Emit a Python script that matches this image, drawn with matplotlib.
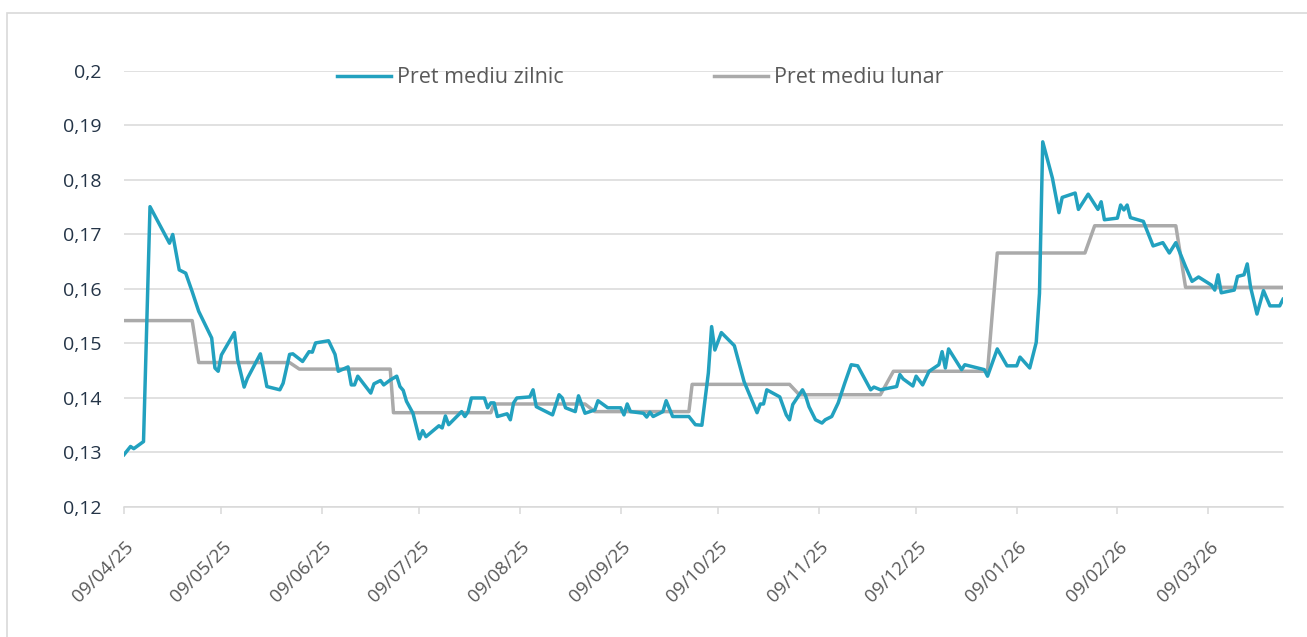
import pandas as pd
import matplotlib
matplotlib.use('Agg')
import matplotlib.pyplot as plt
import matplotlib.dates as mdates
import matplotlib.transforms as mtransforms
from matplotlib.patches import Rectangle

# daily average price (vertices)
daily_dates = [
    '2025-04-09', '2025-04-11', '2025-04-12', '2025-04-15', '2025-04-17', '2025-04-23', '2025-04-24',
    '2025-04-26', '2025-04-28', '2025-04-30', '2025-05-02', '2025-05-06', '2025-05-07', '2025-05-08',
    '2025-05-09', '2025-05-13', '2025-05-14', '2025-05-16', '2025-05-17', '2025-05-21', '2025-05-22',
    '2025-05-23', '2025-05-27', '2025-05-28', '2025-05-30', '2025-05-31', '2025-06-03', '2025-06-05',
    '2025-06-06', '2025-06-07', '2025-06-11', '2025-06-13', '2025-06-14', '2025-06-17', '2025-06-18',
    '2025-06-19', '2025-06-20', '2025-06-24', '2025-06-25', '2025-06-27', '2025-06-28', '2025-06-30',
    '2025-07-02', '2025-07-03', '2025-07-04', '2025-07-05', '2025-07-07', '2025-07-09', '2025-07-10',
    '2025-07-11', '2025-07-15', '2025-07-16', '2025-07-17', '2025-07-18', '2025-07-22', '2025-07-23',
    '2025-07-24', '2025-07-25', '2025-07-29', '2025-07-30', '2025-07-31', '2025-08-01', '2025-08-02',
    '2025-08-05', '2025-08-06', '2025-08-07', '2025-08-08', '2025-08-12', '2025-08-13', '2025-08-14',
    '2025-08-19', '2025-08-21', '2025-08-22', '2025-08-23', '2025-08-26', '2025-08-27', '2025-08-29',
    '2025-09-01', '2025-09-02', '2025-09-05', '2025-09-09', '2025-09-10', '2025-09-11', '2025-09-12',
    '2025-09-16', '2025-09-17', '2025-09-18', '2025-09-19', '2025-09-22', '2025-09-23', '2025-09-25',
    '2025-09-30', '2025-10-02', '2025-10-04', '2025-10-06', '2025-10-07', '2025-10-08', '2025-10-10',
    '2025-10-14', '2025-10-17', '2025-10-21', '2025-10-22', '2025-10-23', '2025-10-24', '2025-10-28',
    '2025-10-30', '2025-10-31', '2025-11-01', '2025-11-04', '2025-11-05', '2025-11-06', '2025-11-08',
    '2025-11-10', '2025-11-11', '2025-11-13', '2025-11-15', '2025-11-17', '2025-11-19', '2025-11-21',
    '2025-11-25', '2025-11-26', '2025-11-28', '2025-12-03', '2025-12-04', '2025-12-05', '2025-12-08',
    '2025-12-09', '2025-12-11', '2025-12-13', '2025-12-16', '2025-12-17', '2025-12-18', '2025-12-19',
    '2025-12-23', '2025-12-24', '2025-12-30', '2025-12-31', '2026-01-03', '2026-01-06', '2026-01-09',
    '2026-01-10', '2026-01-13', '2026-01-15', '2026-01-16', '2026-01-17', '2026-01-20', '2026-01-22',
    '2026-01-23', '2026-01-27', '2026-01-28', '2026-01-31', '2026-02-03', '2026-02-04', '2026-02-05',
    '2026-02-09', '2026-02-10', '2026-02-11', '2026-02-12', '2026-02-13', '2026-02-17', '2026-02-20',
    '2026-02-23', '2026-02-25', '2026-02-27', '2026-03-02', '2026-03-04', '2026-03-06', '2026-03-10',
    '2026-03-11', '2026-03-12', '2026-03-13', '2026-03-17', '2026-03-18', '2026-03-20', '2026-03-21',
    '2026-03-22', '2026-03-24', '2026-03-26', '2026-03-28', '2026-03-31', '2026-04-01',
]
daily_price = [
    0.1296, 0.1311, 0.1307, 0.1320, 0.1751, 0.1684, 0.1700,
    0.1635, 0.1629, 0.1595, 0.1559, 0.1510, 0.1455, 0.1449,
    0.1479, 0.1520, 0.1470, 0.1420, 0.1436, 0.1481, 0.1452,
    0.1421, 0.1415, 0.1427, 0.1480, 0.1481, 0.1467, 0.1485,
    0.1484, 0.1501, 0.1505, 0.1480, 0.1449, 0.1457, 0.1424,
    0.1424, 0.1440, 0.1409, 0.1426, 0.1432, 0.1424, 0.1433,
    0.1440, 0.1421, 0.1414, 0.1394, 0.1372, 0.1325, 0.1340,
    0.1329, 0.1349, 0.1345, 0.1367, 0.1351, 0.1375, 0.1366,
    0.1375, 0.1400, 0.1400, 0.1382, 0.1391, 0.1391, 0.1366,
    0.1371, 0.1360, 0.1391, 0.1400, 0.1402, 0.1415, 0.1384,
    0.1369, 0.1406, 0.1400, 0.1382, 0.1375, 0.1404, 0.1372,
    0.1378, 0.1395, 0.1382, 0.1382, 0.1369, 0.1389, 0.1375,
    0.1372, 0.1365, 0.1374, 0.1366, 0.1375, 0.1395, 0.1366,
    0.1366, 0.1351, 0.1350, 0.1446, 0.1531, 0.1488, 0.1520,
    0.1496, 0.1430, 0.1373, 0.1389, 0.1389, 0.1415, 0.1402,
    0.1369, 0.1360, 0.1388, 0.1415, 0.1403, 0.1384, 0.1360,
    0.1354, 0.1360, 0.1366, 0.1391, 0.1427, 0.1461, 0.1459,
    0.1415, 0.1420, 0.1415, 0.1421, 0.1443, 0.1435, 0.1422,
    0.1440, 0.1424, 0.1449, 0.1461, 0.1485, 0.1455, 0.1490,
    0.1452, 0.1461, 0.1452, 0.1440, 0.1490, 0.1459, 0.1459,
    0.1475, 0.1455, 0.1502, 0.1592, 0.1870, 0.1803, 0.1740,
    0.1768, 0.1776, 0.1746, 0.1774, 0.1746, 0.1760, 0.1727,
    0.1730, 0.1754, 0.1745, 0.1754, 0.1731, 0.1724, 0.1679,
    0.1685, 0.1666, 0.1685, 0.1641, 0.1614, 0.1622, 0.1607,
    0.1598, 0.1626, 0.1593, 0.1598, 0.1623, 0.1626, 0.1646,
    0.1604, 0.1554, 0.1597, 0.1569, 0.1569, 0.1581,
]

# monthly average price, with first and last day shown for each month
month_first = ['2025-04-09', '2025-05-02', '2025-06-02', '2025-07-01', '2025-08-01', '2025-09-01',
               '2025-10-01', '2025-11-03', '2025-12-02', '2026-01-03', '2026-02-02', '2026-03-02']
month_last = ['2025-04-30', '2025-05-30', '2025-06-30', '2025-07-31', '2025-08-29', '2025-09-30',
              '2025-10-31', '2025-11-28', '2025-12-31', '2026-01-30', '2026-02-27', '2026-04-01']
monthly_price = [0.1542, 0.1465, 0.1453, 0.1373, 0.1389, 0.1375,
                 0.1425, 0.1406, 0.1449, 0.1666, 0.1716, 0.1603]

tick_dates = ['2025-04-09', '2025-05-09', '2025-06-09', '2025-07-09', '2025-08-09', '2025-09-09',
              '2025-10-09', '2025-11-09', '2025-12-09', '2026-01-09', '2026-02-09', '2026-03-09']
y_ticks = [0.12, 0.13, 0.14, 0.15, 0.16, 0.17, 0.18, 0.19, 0.2]

plt.rcParams['font.family'] = ['Open Sans', 'DejaVu Sans']

fig = plt.figure(figsize=(13.07, 6.37), dpi=100)
ax = fig.add_axes([0.0949, 0.2041, 0.8867, 0.6845])

# thin frame around the whole chart
fig.patches.append(Rectangle((7 / 1307, -0.05), 1.2, 1 - 13 / 637 + 0.05, transform=fig.transFigure,
                             fill=False, edgecolor='#d9d9d9', linewidth=1.2))

d = pd.to_datetime(daily_dates)
ax.plot(d, daily_price, color='#22a1bf', linewidth=2.5, label='Pret mediu zilnic',
        solid_joinstyle='round', zorder=3)

m_x = []
m_y = []
for a, b, v in zip(month_first, month_last, monthly_price):
    m_x += [pd.Timestamp(a), pd.Timestamp(b)]
    m_y += [v, v]
ax.plot(m_x, m_y, color='#aaaaaa', linewidth=2.5, label='Pret mediu lunar', zorder=2)

ax.set_xlim(pd.Timestamp('2025-04-09'), pd.Timestamp('2026-04-01'))
ax.set_ylim(0.12, 0.2)
ax.set_yticks(y_ticks)
ax.set_yticklabels([('%g' % v).replace('.', ',') for v in y_ticks])
ax.set_xticks(pd.to_datetime(tick_dates))
ax.xaxis.set_major_formatter(mdates.DateFormatter('%d/%m/%y'))

ax.grid(axis='y', color='#d9d9d9', linewidth=1.1)
ax.set_axisbelow(True)
for s in ['left', 'right', 'top']:
    ax.spines[s].set_visible(False)
ax.spines['bottom'].set_color('#d9d9d9')
ax.spines['bottom'].set_linewidth(1.1)

ax.tick_params(axis='y', length=0, pad=16, labelsize=14, labelcolor='#243447')
ax.tick_params(axis='x', length=5, width=1.1, color='#d9d9d9', pad=22, labelsize=13.5,
               labelcolor='#595959')
offset = mtransforms.ScaledTranslation(7 / 100, 0, fig.dpi_scale_trans)
for lab in ax.get_xticklabels():
    lab.set_rotation(45)
    lab.set_ha('right')
    lab.set_va('center')
    lab.set_rotation_mode('anchor')
    lab.set_transform(lab.get_transform() + offset)

leg = ax.legend(loc='center left', bbox_to_anchor=(0.184, 0.984), ncol=2, frameon=False,
                fontsize=15.5, handlelength=2.5, handletextpad=0.28, columnspacing=7.0,
                borderaxespad=0, borderpad=0)
for t in leg.get_texts():
    t.set_color('#595959')

fig.savefig('out.png', dpi=100)
